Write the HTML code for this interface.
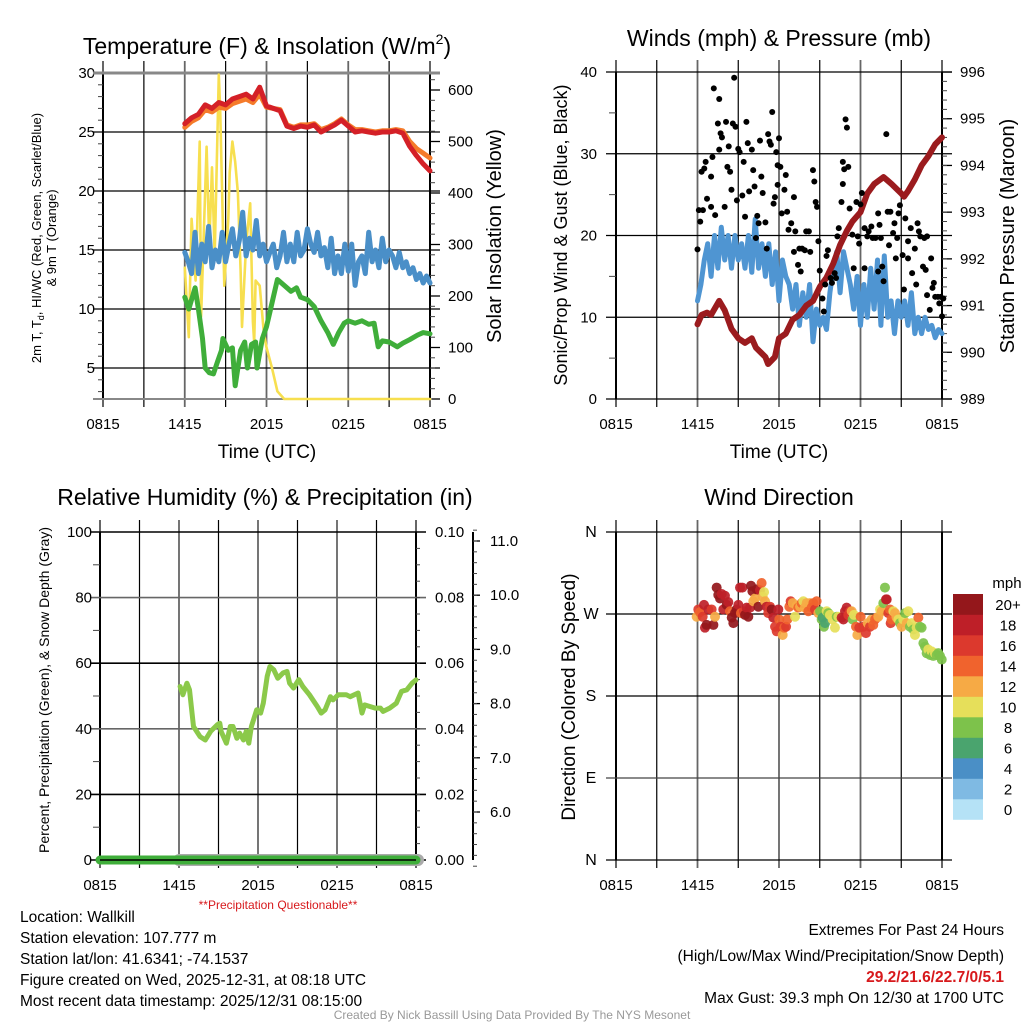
<!DOCTYPE html>
<html><head><meta charset="utf-8"><style>
html,body{margin:0;padding:0;background:#fff;}
svg{display:block;font-family:"Liberation Sans",Arial,sans-serif;}
</style></head><body>
<svg id="c" width="1024" height="1024" viewBox="0 0 1024 1024">
<rect width="1024" height="1024" fill="#fff"/>
<text x="267" y="54" font-size="23" text-anchor="middle">Temperature (F) &amp; Insolation (W/m<tspan font-size="14" dy="-10">2</tspan><tspan dy="10">)</tspan></text>
<text x="779" y="46" font-size="23" text-anchor="middle">Winds (mph) &amp; Pressure (mb)</text>
<text x="265" y="505" font-size="23" text-anchor="middle">Relative Humidity (%) &amp; Precipitation (in)</text>
<text x="779" y="505" font-size="23" text-anchor="middle">Wind Direction</text>
<text x="267" y="458" font-size="19" text-anchor="middle">Time (UTC)</text>
<text x="779" y="458" font-size="19" text-anchor="middle">Time (UTC)</text>
<text transform="translate(41,238) rotate(-90)" font-size="13" text-anchor="middle">2m T, T<tspan font-size="9" dy="3">d</tspan><tspan dy="-3">, HI/WC (Red, Green, Scarlet/Blue)</tspan></text>
<text transform="translate(56,238) rotate(-90)" font-size="13" text-anchor="middle">&amp; 9m T (Orange)</text>
<text transform="translate(501,236) rotate(-90)" font-size="20" text-anchor="middle">Solar Insolation (Yellow)</text>
<text transform="translate(567,235) rotate(-90)" font-size="18" text-anchor="middle">Sonic/Prop Wind &amp; Gust (Blue, Black)</text>
<text transform="translate(1014,236) rotate(-90)" font-size="20" text-anchor="middle">Station Pressure (Maroon)</text>
<text transform="translate(49,690) rotate(-90)" font-size="14" text-anchor="middle">Percent, Precipitation (Green), &amp; Snow Depth (Gray)</text>
<text transform="translate(575,697) rotate(-90)" font-size="19" text-anchor="middle">Direction (Colored By Speed)</text>
<text x="278" y="909" font-size="12" fill="#d7191c" text-anchor="middle">**Precipitation Questionable**</text>
<g font-size="15.5">
<text x="20" y="922">Location: Wallkill</text>
<text x="20" y="943">Station elevation: 107.777 m</text>
<text x="20" y="964">Station lat/lon: 41.6341; -74.1537</text>
<text x="20" y="985">Figure created on Wed, 2025-12-31, at 08:18 UTC</text>
<text x="20" y="1006">Most recent data timestamp: 2025/12/31 08:15:00</text>
</g>
<g font-size="15.5" text-anchor="end">
<text x="1004" y="935">Extremes For Past 24 Hours</text>
<text x="1004" y="961">(High/Low/Max Wind/Precipitation/Snow Depth)</text>
<text x="1004" y="982" fill="#d7191c" font-weight="bold">29.2/21.6/22.7/0/5.1</text>
<text x="1004" y="1003">Max Gust: 39.3 mph On 12/30 at 1700 UTC</text>
</g>
<text x="512" y="1019" font-size="12" fill="#999" text-anchor="middle">Created By Nick Bassill Using Data Provided By The NYS Mesonet</text>
<text x="1007" y="588" font-size="15" text-anchor="middle">mph</text>
</svg>
<script>
// ---------- data (hours since 0815 UTC) ----------
const xTickLabels = ["0815","1415","2015","0215","0815"];
const tempT = [6,6.5,7,7.5,8,8.5,9,9.5,10,10.5,11,11.5,12,12.5,13,13.5,14,14.5,15,15.5,16,16.5,17,17.5,18,18.5,19,19.5,20,20.5,21,21.5,22,22.5,23,23.5,24];
const tempRed = [25.7,26.2,26.5,27.3,27.0,27.5,27.3,27.8,28.0,28.2,27.8,28.8,27.2,27.0,26.8,25.5,25.3,25.5,25.4,25.6,25.0,25.3,25.6,26.0,25.5,25.0,25.1,25.0,24.9,25.0,25.0,25.1,24.9,23.8,23.0,22.3,21.7];
const temp9m = [25.4,25.9,26.2,26.9,26.7,27.1,27.0,27.4,27.6,27.8,27.5,28.2,27.1,27.0,26.9,25.6,25.4,25.6,25.6,25.7,25.2,25.4,25.7,26.1,25.6,25.2,25.2,25.1,25.0,25.1,25.1,25.2,25.1,24.2,23.6,23.2,22.8];
const chillT = [6,6.25,6.5,6.75,7,7.25,7.5,7.75,8,8.25,8.5,8.75,9,9.25,9.5,9.75,10,10.25,10.5,10.75,11,11.25,11.5,11.75,12,12.25,12.5,12.75,13,13.25,13.5,13.75,14,14.25,14.5,14.75,15,15.25,15.5,15.75,16,16.25,16.5,16.75,17,17.25,17.5,17.75,18,18.25,18.5,18.75,19,19.25,19.5,19.75,20,20.25,20.5,20.75,21,21.25,21.5,21.75,22,22.25,22.5,22.75,23,23.25,23.5,23.75,24];
const chillBlue = [14.8,14,13,16.5,13,15.5,14,17,13.5,15,14,16.5,14,15.5,16.8,14.5,15.8,18.2,14.5,16,15,17.5,14.5,15.5,14,14.8,15.5,13.5,14.5,16.5,14,15.5,14,16.5,14.5,15,16.8,15.5,14.8,16.5,14.5,15.2,13.5,16,13,14.5,13,15.5,13.2,15.5,12,14,14.5,13,16.5,14,15,13.5,16,14,15,14.5,13.5,14.8,13.5,14,13,13.5,12.5,13,12.2,12.8,12.2];
const dewT = [6,6.3,6.76,7,7.3,7.5,7.8,8.1,8.4,8.7,8.8,9.2,9.5,9.7,10.1,10.4,10.6,10.9,11.2,11.3,11.7,12,12.3,12.8,13.3,13.8,14.2,14.5,15,15.5,16,16.5,16.9,17.3,17.7,18,18.5,19,19.5,19.9,20.2,20.5,21,21.6,22,22.5,23.1,23.5,24];
const dewGreen = [11,10,11.8,10,7.5,5,4.6,4.5,5.5,6.5,7.5,6.5,6.7,3.5,6.5,7.2,5,7,7.2,5,7.5,8.5,10,12.5,12,11.5,11.8,11,10.8,10.2,9,8,7,8,8.8,9,8.8,9,8.7,8.8,6.8,7.3,7.2,6.8,7.1,7.4,7.8,8,7.9];
const solarT = [6,6.3,6.5,6.8,7.1,7.2,7.6,7.8,8,8.2,8.5,8.6,8.9,9.2,9.3,9.5,9.7,9.9,10.1,10.2,10.5,10.8,11,11.1,11.2,11.5,11.8,12,12.4,12.8,13.3,18,24];
const solarW = [255,120,350,230,500,160,490,300,450,280,630,560,220,350,440,500,460,400,250,140,300,380,150,110,230,220,130,100,60,15,0,0,0];
const windT = chillT;
const windBlue = [12,14,17,19,15,20,16,21,17,20,16,20,17,19,16,20,15.5,22,16,19,15,19,14,18,12,17,15,14,11,14,9,13,10,14,7,11,9,10,8.5,13,16,18,13,18,16,14,11,15,9,14,10,16,11,17,9,17.5,10,12,8,12,10,12,9,13,8,10,8,10,8.5,9,7.5,8.5,8];
const presT = [6,6.3,6.7,7,7.6,8,8.5,9,9.5,10,10.3,11,11.2,11.7,12,12.5,13,13.5,14,14.5,15,15.5,16,16.5,17,17.4,18,18.5,19,19.7,20.3,21,21.2,21.5,22,22.5,23,23.5,24];
const presMb = [990.6,990.8,990.85,990.8,991.1,990.9,990.5,990.3,990.2,990.3,990.1,989.9,989.75,989.9,990.3,990.4,990.7,990.8,991.0,991.1,991.4,991.6,991.9,992.3,992.6,992.8,993.0,993.4,993.6,993.75,993.6,993.4,993.33,993.45,993.7,994.0,994.2,994.45,994.6];
const gustT = [6.0,6.1,6.2,6.4,6.3,6.5,6.6,6.7,7.0,7.0,7.1,7.2,7.3,7.5,7.6,7.6,7.7,7.8,8.0,8.1,8.2,8.3,8.4,8.5,8.6,8.7,8.8,8.9,9.0,9.1,9.3,9.4,9.5,9.6,9.7,9.8,10.0,10.1,10.2,10.3,10.4,10.5,10.6,10.7,10.8,11.0,11.1,11.2,11.3,11.4,11.5,11.6,11.7,11.8,11.9,11.9,12.0,12.1,12.2,12.4,12.5,12.6,12.7,12.9,13.1,13.1,13.2,13.4,13.5,13.6,13.7,13.9,14.0,14.2,14.3,14.5,14.6,14.7,14.8,14.9,15.0,15.2,15.3,15.4,15.5,15.6,15.8,15.9,16.1,16.2,16.3,16.4,16.6,16.7,16.7,16.8,16.9,17.0,17.1,17.2,17.4,17.5,17.7,17.8,17.9,18.0,18.1,18.3,18.3,18.5,18.6,18.8,18.9,19.1,19.3,19.3,19.4,19.5,19.6,19.7,19.9,20.0,20.1,20.2,20.4,20.5,20.6,20.7,20.8,20.9,21.1,21.2,21.3,21.5,21.5,21.7,21.8,22.0,22.1,22.2,22.3,22.4,22.6,22.7,22.8,22.9,22.9,23.1,23.2,23.3,23.4,23.5,23.7,23.8,23.9,24.0,24.1];
const gustMph = [18.3,23.1,21.7,23.1,27.8,28.2,29,24.5,27.2,23.5,29.6,38,22.5,33.7,30.5,36.7,32.5,32,23.5,33.9,28.4,30.9,27.8,25.6,33.7,39.3,33.3,24.3,30.6,30.2,24.9,29.0,22.3,33.9,31.3,25.4,30.5,28.0,26.0,19.7,22.4,21.5,31.6,27.2,25.2,21.6,18.4,32.4,31.5,31.1,35.1,23.9,24.7,30.2,28.6,26.2,31.9,28.4,22.7,25.6,27.4,22.9,20.7,21.5,24.7,18.0,20.5,16.4,18.4,15.6,18.4,18.2,20.5,20.5,18.0,28.0,26.6,24.1,23.5,19.3,15.7,12.3,10.7,14.0,17.5,18.2,14.8,14.2,15.4,14.8,19.9,20.9,24.1,29.0,26.3,28.1,34.2,33.2,28.4,23.3,20.1,16.0,24.1,19.9,19.0,23.8,25.2,20.9,16.0,19.9,20.5,21.1,19.7,19.7,15.6,22.7,21.3,19.7,16.2,14.4,32.4,22.9,18.8,22.9,20.3,21.5,17.2,19.7,22.7,23.7,17.6,13.4,22.1,19.3,17.2,20.9,15.4,18.4,14.0,21.5,20.5,19.9,16.2,19.7,15.8,19.9,12.7,10.9,17.2,13.6,14.2,12.5,12.5,11.7,12.5,10.1,12.3];
const rhT = [6.08,6.3,6.6,6.8,7.1,7.6,8.0,8.4,8.9,9.1,9.2,9.6,9.9,10.1,10.4,10.6,10.9,11.1,11.3,11.5,11.9,12.2,12.4,12.7,12.9,13.2,13.5,13.9,14.2,14.4,14.7,15.1,15.4,15.9,16.5,16.8,17.1,17.5,17.7,18.1,18.7,19.0,19.6,19.9,20.1,20.5,20.9,21.3,21.5,22.0,22.5,22.9,23.3,23.7,24.0];
const rhPct = [52.9,50.4,53.9,51.9,40.7,37.6,36.6,39.2,41.2,41.7,39.2,35.6,40.7,40.7,37.1,38.7,36.6,39.2,35.6,40.7,45.8,44.8,47.8,56,59,58,55.4,57,57.5,53.9,52.4,55,52.9,50.4,46.8,44.8,45.8,49.8,48.8,50.4,50.4,49.8,50.9,44.8,47.3,46.8,46.3,46.3,45.3,46.3,47.8,51.4,51.9,53.9,54.9];
const precipIn = [0,0];
const snowDepthStart = 6;
const dirT = [5.94,6.06,6.18,6.38,6.48,6.55,6.67,6.8,7.04,7.17,7.29,7.41,7.53,7.66,7.78,7.9,8.02,8.15,8.27,8.39,8.52,8.64,8.76,8.88,9.01,9.13,9.2,9.3,9.42,9.5,9.62,9.74,9.87,9.94,10.04,10.11,10.23,10.36,10.48,10.6,10.72,10.8,10.9,10.97,11.09,11.21,11.34,11.46,11.58,11.71,11.83,11.95,12.02,12.12,12.27,12.39,12.52,12.61,12.76,12.86,13.01,13.18,13.3,13.42,13.55,13.67,13.79,13.91,14.04,14.16,14.28,14.4,14.53,14.65,14.77,14.9,15.02,15.14,15.21,15.31,15.39,15.51,15.63,15.75,15.95,16.12,16.25,16.37,16.61,16.74,16.86,16.98,17.1,17.23,17.35,17.42,17.52,17.67,17.77,17.91,18.01,18.21,18.4,18.53,18.7,18.82,18.94,19.07,19.19,19.31,19.44,19.56,19.68,19.8,19.88,19.93,20.05,20.17,20.22,20.29,20.42,20.54,20.66,20.79,20.91,21.03,21.15,21.28,21.4,21.52,21.64,21.77,21.89,22.01,22.13,22.26,22.38,22.5,22.63,22.75,22.87,22.99,23.12,23.24,23.36,23.48,23.61,23.73,23.85,23.98];
const dirDeg = [267,275,272,267,280,255,258,275,275,258,267,299,291,287,292,275,290,280,283,273,266,260,271,275,280,299,271,299,273,269,277,267,277,301,295,284,287,297,278,296,304,289,294,284,278,271,278,275,266,256,251,275,264,256,247,255,256,264,278,284,282,267,279,277,278,282,284,277,282,273,282,277,282,275,284,271,273,264,266,256,260,273,271,269,264,255,267,267,266,264,273,277,269,273,273,264,269,256,247,255,267,256,249,260,256,264,258,264,266,267,275,273,282,299,286,286,271,275,260,264,273,271,266,264,260,256,264,271,260,273,256,260,253,247,255,266,256,255,238,234,227,231,225,229,224,227,225,227,224,220];
const dirSpd = [12,16,14,16,18,18,20,18,16,20,12,20,20,20,18,18,18,20,18,14,20,20,20,20,18,18,14,18,16,20,18,20,18,20,20,12,12,20,20,18,14,12,10,12,18,16,16,20,18,16,16,18,14,16,12,14,16,14,14,16,12,10,12,14,12,14,10,12,12,14,12,14,14,16,14,12,8,8,6,8,6,10,8,10,10,10,8,10,18,18,18,18,16,16,12,8,10,14,12,16,14,16,16,12,16,12,14,14,14,12,10,12,8,8,18,18,16,14,16,14,10,12,12,10,8,12,10,8,12,10,8,10,8,10,10,14,8,8,8,8,8,10,8,10,8,10,8,8,8,8];
const cbLabels = ["0","2","4","6","8","10","12","14","16","18","20+"];
const cbColors = ["#b5e2f6","#7fbae3","#4a8fc6","#4aa46e","#7dc24b","#e6df5a","#f6aa45","#f0632d","#dc392d","#be1f28","#94171b"];

// ---------- helpers ----------
const NS="http://www.w3.org/2000/svg", svg=document.getElementById('c');
function mk(tag,a,parent){const e=document.createElementNS(NS,tag);for(const k in a)e.setAttribute(k,a[k]);(parent||svg).appendChild(e);return e;}
function panel(x0,x1,y0,y1){return {x0,x1,y0,y1,x:h=>x0+h*(x1-x0)/24};}
const P1=panel(103,430,73,399), P2=panel(616,942,72,399), P3=panel(100,416,532,860), P4=panel(616,942,532,860);
const y1L=v=>73+(30-v)*11.8, y1R=w=>399-w*0.515;
const y2L=v=>399-v*8.175, y2R=p=>399-(p-989)*46.71;
const y3L=v=>860-v*3.28, y3P=v=>860-v*3280, y3S=v=>812-(v-6)*54.2;
const y4=d=>860-d*328/360;

function frame(P,name){
  const g=mk('g',{});
  
  
  for(let h=0;h<=24;h+=3){
    const l=mk('line',{x1:P.x(h),x2:P.x(h),y1:P.y0-12,y2:P.y1+8,stroke:h%6===0&&h>0&&h<24?'#666':'#000','stroke-width':h%6===0&&h>0&&h<24?1.8:1.2},g);
    
    
  }
  xTickLabels.forEach((s,i)=>{
    const t=mk('text',{x:P.x(i*6),y:P.y1+30,'font-size':15,'text-anchor':'middle'},g);
    t.textContent=s;
    
    
  });
  mk('line',{x1:P.x0,x2:P.x0,y1:P.y0,y2:P.y1,stroke:'#000','stroke-width':2},g);
  mk('line',{x1:P.x1,x2:P.x1,y1:P.y0,y2:P.y1,stroke:'#000','stroke-width':2},g);
  return g;
}
function hline(P,y,col,w,ext){const l=mk('line',{x1:P.x0-(ext||10),x2:P.x1+(ext||10),y1:y,y2:y,stroke:col||'#000','stroke-width':w||1.3});}
function ylab(x,y,s,anchor,fs){const t=mk('text',{x:x,y:y+5,'font-size':fs||15,'text-anchor':anchor});t.textContent=s;}
function minor(x,y,len){mk('line',{x1:x,x2:x+len,y1:y,y2:y,stroke:'#444','stroke-width':1});}
function path(P,ts,vs,yf,col,w,name){
  let d='';ts.forEach((t,i)=>{d+=(i?'L':'M')+P.x(t).toFixed(1)+','+yf(vs[i]).toFixed(1);});
  const p=mk('path',{d:d,fill:'none',stroke:col,'stroke-width':w,'stroke-linejoin':'round','stroke-linecap':'round'});
  
  
  return p;
}

// ---------- Panel 1 ----------
frame(P1,'temperature');
for(let v=5;v<=30;v+=5){hline(P1,y1L(v),'#000',1.3);ylab(95,y1L(v),String(v),'end');}
mk('line',{x1:P1.x0-10,x2:P1.x1+10,y1:73,y2:73,stroke:'#888','stroke-width':3});
for(let v=3;v<30;v+=1)if(v%5)minor(P1.x0-5,y1L(v),5);
for(let w=0;w<=600;w+=100){mk('line',{x1:P1.x1,x2:P1.x1+10,y1:y1R(w),y2:y1R(w),stroke:'#000','stroke-width':1.3});ylab(448,y1R(w),String(w),'start');}
for(let w=20;w<630;w+=20)if(w%100)minor(P1.x1,y1R(w),5);
mk('line',{x1:P1.x0-10,x2:P1.x1+2,y1:399,y2:399,stroke:'#888','stroke-width':2});
path(P1,solarT,solarW,y1R,'#f7df4f',2.6,'insolation-line');
path(P1,chillT,chillBlue,y1L,'#4a8fc8',5,'wind-chill-line');
path(P1,dewT,dewGreen,y1L,'#3fae3a',5,'dewpoint-line');
path(P1,tempT,temp9m,y1L,'#f57b2a',5,'9m-temperature-line');
path(P1,tempT,tempRed,y1L,'#d42027',5,'2m-temperature-line');

// ---------- Panel 2 ----------
frame(P2,'winds');
for(let v=0;v<=40;v+=10){hline(P2,y2L(v),'#000',1.3);ylab(597,y2L(v),String(v),'end');}
for(let v=5;v<40;v+=10)minor(P2.x0-7,y2L(v),7);
for(let p=989;p<=996;p++){mk('line',{x1:P2.x1,x2:P2.x1+10,y1:y2R(p),y2:y2R(p),stroke:'#000','stroke-width':1.3});ylab(960,y2R(p),String(p),'start');}
for(let p=989.2;p<996;p+=0.2)minor(P2.x1,y2R(p),5);
path(P2,windT,windBlue,y2L,'#4f95d2',5,'wind-speed-line');
path(P2,presT,presMb,y2R,'#9b1b1e',6,'pressure-line');
gustT.forEach((t,i)=>{
  const c=mk('circle',{cx:P2.x(t),cy:y2L(gustMph[i]),r:3,fill:'#000'});
  
  
});

// ---------- Panel 3 ----------
frame(P3,'humidity');
for(let v=0;v<=100;v+=20){hline(P3,y3L(v),(v===80||v===40)?'#666':'#000',1.6);ylab(92,y3L(v),String(v),'end');}
for(let v=10;v<100;v+=20)minor(P3.x0-7,y3L(v),7);
for(let k=0;k<=5;k++){const v=k*0.02;ylab(435,y3P(v),v.toFixed(2),'start');}
for(let v=0.005;v<0.1;v+=0.005)minor(P3.x1,y3P(v),4);
mk('line',{x1:473,x2:473,y1:532,y2:860,stroke:'#000','stroke-width':2});
for(let v=6;v<=11;v++){mk('line',{x1:473,x2:480,y1:y3S(v),y2:y3S(v),stroke:'#000','stroke-width':1.3});ylab(490,y3S(v),v.toFixed(1),'start');}
for(let v=5;v<11.2;v+=0.2)minor(473,y3S(v),4);
const sd=mk('line',{x1:P3.x(snowDepthStart),x2:P3.x1+2,y1:860,y2:860,stroke:'#aaa','stroke-width':12,'stroke-linecap':'round'});


const pr=mk('line',{x1:P3.x(0),x2:P3.x(24),y1:y3P(precipIn[0]),y2:y3P(precipIn[1]),stroke:'#3fae3a','stroke-width':9,'stroke-linecap':'round'});


mk('line',{x1:P3.x0,x2:P3.x1,y1:860,y2:860,stroke:'#000','stroke-width':1.5});
path(P3,rhT,rhPct,y3L,'#8bc94a',5,'relative-humidity-line');

// ---------- Panel 4 ----------
frame(P4,'direction');
["N","E","S","W","N"].forEach((s,i)=>{hline(P4,y4(i*90),i===1?'#444':'#000',1.3);ylab(591,y4(i*90),s,'middle',16);});
dirT.forEach((t,i)=>{
  const b=Math.max(0,Math.min(10,Math.floor(dirSpd[i]/2)));
  const c=mk('circle',{cx:P4.x(t),cy:y4(dirDeg[i]),r:5,fill:cbColors[b],'fill-opacity':0.92});
  
  
});
cbColors.forEach((col,i)=>{
  const y=594+(10-i)*20.5;
  const r=mk('rect',{x:953,y:y,width:30,height:20.8,fill:col});
  
  
  const t=mk('text',{x:1008,y:y+16,'font-size':15,'text-anchor':'middle'});
  t.textContent=cbLabels[i];
  
  
});
</script>
</body></html>
